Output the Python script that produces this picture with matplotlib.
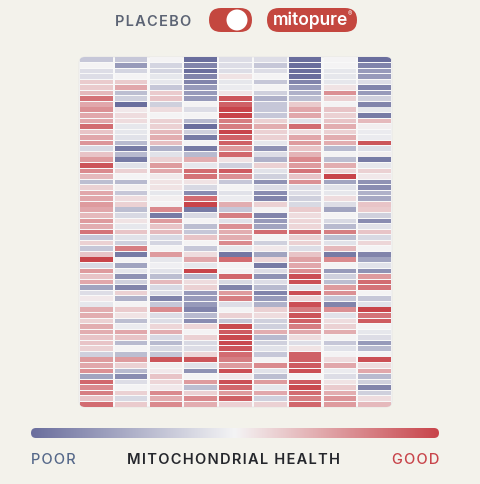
import numpy as np
import matplotlib
matplotlib.use("Agg")
import matplotlib.pyplot as plt
from matplotlib.colors import LinearSegmentedColormap, Normalize
from matplotlib.patches import FancyBboxPatch, Circle

# ---------------- data (score: -3 = poor ... +3 = good), rows top -> bottom
col1 = [-1, 0, -0.5, -0.5, 0.7, 0.7, 1, 2.2, 1.3, 1.7, 1.3, 1.3, 2.3, 0.8, 1.3, 1.6,
        -0.6, 0.8, 1.5, 2.7, 1.8, 1, -1.2, 0.6, 1.3, 1.3, 1.5, 1.3, 1, 1.5, 1.2, 2.2,
        -1, 0.6, -1, 0.8, 3, -0.6, 1.5, 0.8, 1.3, -1.8, -0.5, 0.2, -0.3, 1.2, 1.2,
        0.6, 1.2, 1.2, 0.8, 0.8, 0.6, -0.8, 1.5, 1.3, 1.7, -1.8, 2.4, 1.8, 2, 0.8, 2.3]
col2 = [-1, -2, -0.7, 0, 0.7, 1.3, -1.2, -0.8, -3, 0.2, 0.4, 0.4, -0.3, -0.3, -0.4, -1.3,
        -2.7, -1.3, -2.7, -0.4, 0.6, 0, -1.3, 0.1, -1, 0.4, 0.6, -1.2, -0.6, 0.3, -0.3, 0.8,
        -0.4, -0.8, 2, -2.7, 0, -1.8, -0.3, -2.2, -0.8, -2.5, 0.6, -1.5, 0, 0.7, 0.3,
        -1.2, -0.2, 1.3, 0.8, -1.3, 0, -1.2, 1.5, 0.6, -1.3, -2.3, -0.5, 0, 0.6, -0.6, 0.7]
col3 = [0, -0.7, -0.7, -0.3, -0.3, -1, 0.7, 0.8, -0.8, 0.4, 0, 0.6, 0.6, 1, 1.2, 0.9,
        -1.5, -0.4, 0.6, 1.5, 1.3, 0.2, 0.3, 0.3, -0.3, 0.1, 0, 1.8, -2.7, 1.5, 0.8, 1,
        -0.6, -0.7, 0, 1.5, -0.3, -0.1, -0.4, -1.2, 1, -0.6, -0.5, -2.5, -1, 1.8, -0.5,
        -0.5, 0.5, 1.2, -0.6, -1.3, -0.6, -1, 2.7, 0.1, 0.2, 0.8, 0.5, 0.2, 1.8, 1.2, 1.8]
col4 = [-3, -2.5, -3, -2.5, -2.5, -2, -2, -2, 0, -0.5, 0, -1.3, -3, -0.8, -2.7, 0,
        -2.7, -1.3, 1.2, -0.3, 2.3, 2.2, 0.3, -0.6, -2.3, 2.3, 3, -2.7, -0.6, 0, -1.2, -1,
        0.8, 0, -1, 0.4, 1.3, -0.3, 3, -1.3, 0.4, 0.6, -2, -2, -2, -2.5, -1.3,
        -2.3, 0.5, 0, 0.6, -0.6, -0.5, 0.5, 2.7, -0.4, -2.2, 0, 1.5, -1.2, 0.6, 1.8, 1.2]
col5 = [-0.5, -0.5, -0.5, 0.3, -0.3, -0.2, 0.3, 2.7, 2.5, 3, 3, 2, 2, 3, 2.5, 2.5,
        1.5, 2.4, 0.3, -0.8, 2.6, 1.7, -1, 0, -0.4, -0.2, 1.2, -1, 2, -0.4, 1.7, 1.2,
        1.2, 1.8, -0.3, -2.8, 2.3, 0, 0, 2.4, -0.6, -2.5, 1.5, 2, -0.5, 0, 0.6,
        -1, 2.9, 2.6, 2.9, 2.9, 2.7, 2.3, 2, 1.5, 2.8, 0.2, 2.8, 2.4, 1.5, 2.5, 0.6]
col6 = [-0.5, -1, -0.5, 0, -1, 0, -0.8, -1.5, -1, -1, -1, 0.6, 1.2, 0.6, 0.6, -0.3,
        -2.2, -0.5, -1.5, 0.6, -0.4, -0.8, -2.2, -0.5, -2.3, -2.5, 0.6, 0, -2.5, -2, -1.8, 2.3,
        0, -0.8, 0.2, -1.8, 0.5, -2.7, -0.5, -2.2, -0.5, -1.3, -2.5, -2, -1.5, 0.6, 0.4,
        -0.8, -0.8, 1.2, -1.3, -0.8, -0.4, -1, 0, 1.8, -0.4, -1.2, 1.5, -0.3, 1.3, -0.8, 0.6]
col7 = [-3, -3, -3, -3, -2.5, -2, -1.5, -1.2, 0.7, 1.3, 1.3, -0.4, 2.3, 0.4, 1.3, 1.5,
        0.8, 1.1, 1.8, 1.5, 2.2, 0.8, 1.7, -0.5, -0.5, -0.8, -0.6, 0.7, 0.4, 0.5, 0.5, 2.3,
        0.6, 0.6, -0.5, 0.8, 1.4, 1.3, 1.7, 2.8, 2.8, -0.4, 2.8, 0.5, 2.8, 2, 2.7,
        2.5, 2, 1.3, 0.4, -0.5, 0.3, 2.5, 2.5, 2.6, 2.8, 0, 2.6, 2.9, 2.3, 2, 2.4]
col8 = [0, 0, -0.3, -0.3, -0.3, 0.3, 1.7, 0.6, 0, 0.8, 0.6, 0.8, 1.2, 0.6, 1.2, 1.2,
        -1.3, 0, -1.2, 1.2, 0.5, 3, -1.8, -0.4, -0.3, 0.4, -0.5, -1.8, 0, -0.6, -1.3, 2,
        -1.2, -0.4, 1, -2.7, 1.8, 0, -2, -0.8, -1.2, 1.5, 1.7, -1, -2.5, 1.7, -0.4,
        0.4, 0.6, 1.2, 0, -1, -0.4, 0, 0.4, 1.3, -0.2, -0.5, 0.3, 0.7, 1.2, 1.6, 1.5]
col9 = [-3, -2.5, -2, -2, -0.5, -2.5, -2, -0.8, -2.5, -0.3, -2.7, 1, 0.1, -0.2, -0.2, 2.7,
        -0.5, 0.1, -2.7, -0.3, 0.6, 0.2, -2.2, -2.3, -1.5, -1.7, 0.8, 0.7, -0.8, -2.3, -0.4, 0.8,
        -0.6, 0.5, 0, -2.5, -1.8, -0.4, -2.2, 1.5, 2.3, 2.2, 0, -1, -0.4, 3, 2.2,
        2.6, 0, -0.3, -0.5, -2, -1.3, 0, 2.8, 0.4, 1.3, -1.3, -0.8, -2.5, -0.8, 0.4, 1]
columns = [col1, col2, col3, col4, col5, col6, col7, col8, col9]

toggle_left = "PLACEBO"
brand = "mitopure"
scale_left = "POOR"
scale_mid = "MITOCHONDRIAL HEALTH"
scale_right = "GOOD"

# ---------------- style
W, H = 481, 485
BG = "#f3f2eb"
BLUE = "#6a6e9d"
RED = "#c8444a"
MID = "#f4f4f5"
cmap = LinearSegmentedColormap.from_list("mito", [BLUE, MID, RED])
norm = Normalize(vmin=-3, vmax=3)
FONT = ["Inter", "DejaVu Sans"]
HS = "\u200a"

def spaced(s):
    return HS.join(list(s))

fig = plt.figure(figsize=(W / 100, H / 100), dpi=100)
fig.patch.set_facecolor(BG)

def px_axes(x0, y0, x1, y1):
    return fig.add_axes([x0 / W, 1 - y1 / H, (x1 - x0) / W, (y1 - y0) / H])

def px_box(x0, y0, x1, y1, r, **kw):
    return FancyBboxPatch((x0 / 100, (H - y1) / 100), (x1 - x0) / 100, (y1 - y0) / 100,
                          boxstyle=f"round,pad=0,rounding_size={r / 100}",
                          transform=fig.dpi_scale_trans, **kw)

# ---------------- heatmap
hx0, hy0, hx1, hy1 = 79, 58, 392, 408
ax = px_axes(hx0, hy0, hx1, hy1)
ax.set_axis_off()
nrows = len(col1)
ax.set_xlim(0, len(columns))
ax.set_ylim(nrows, 0)
frame = px_box(hx0, hy0, hx1, hy1, 6, facecolor="#f8f8f8", edgecolor="#e6e6e6",
               linewidth=0.6, zorder=-5)
fig.patches.append(frame)
clip = px_box(hx0, hy0, hx1, hy1, 6, facecolor="none", edgecolor="none")
rows = np.arange(nrows) + 0.5
for j, col in enumerate(columns):
    bars = ax.barh(rows, width=0.935, left=j + 0.0325, height=0.84,
                   color=cmap(norm(np.array(col))), linewidth=0)
    for b in bars:
        b.set_clip_path(clip)

# ---------------- top toggle
fig.text(115 / W, 1 - 21.5 / H, spaced(toggle_left), family=FONT, fontsize=10.5,
         fontweight="semibold", color="#5c6474", ha="left", va="center")
fig.patches.append(px_box(209, 9, 252, 33, 12, facecolor="#c4473f", edgecolor="none"))
fig.patches.append(Circle((237 / 100, (H - 21) / 100), 0.105, transform=fig.dpi_scale_trans,
                          facecolor="white", edgecolor="none"))
fig.patches.append(px_box(267, 9, 357, 33, 12, facecolor="#c4473f", edgecolor="none"))
fig.text(311 / W, 1 - 20 / H, brand, family=FONT, fontsize=12.5, fontweight="semibold",
         color="white", ha="center", va="center")
fig.text(350 / W, 1 - 14 / H, "\u00ae", family=FONT, fontsize=4.5, color="white",
         ha="center", va="center")

# ---------------- colour scale
cx0, cy0, cx1, cy1 = 31, 429, 439, 439
cax = px_axes(cx0, cy0, cx1, cy1)
cax.set_axis_off()
grad = np.linspace(-3, 3, 512).reshape(1, -1)
im = cax.imshow(grad, cmap=cmap, norm=norm, aspect="auto", extent=(0, 1, 0, 1))
cclip = px_box(cx0, cy0, cx1, cy1, 5, facecolor="none", edgecolor="none")
im.set_clip_path(cclip)

ly = 1 - 460.5 / H
fig.text(31 / W, ly, spaced(scale_left), family=FONT, fontsize=10.5, fontweight="medium",
         color="#56698a", ha="left", va="center")
fig.text(234 / W, ly, spaced(scale_mid), family=FONT, fontsize=10.5, fontweight="semibold",
         color="#25272c", ha="center", va="center")
fig.text(439 / W, ly, spaced(scale_right), family=FONT, fontsize=10.5, fontweight="medium",
         color=RED, ha="right", va="center")

fig.savefig("out.png", dpi=100, facecolor=BG)
